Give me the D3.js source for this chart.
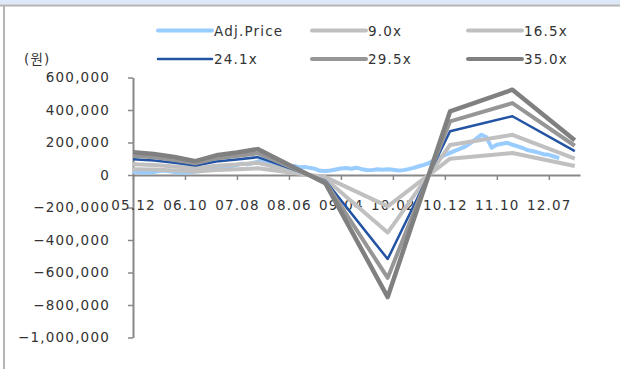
<!DOCTYPE html>
<html>
<head>
<meta charset="utf-8">
<script src="https://cdn.jsdelivr.net/npm/d3@7"></script>
<style>
  body { margin: 0; background: #fff; }
  text { font-family: 'DejaVu Sans', 'Noto Sans CJK KR', sans-serif; font-size: 13.5px; fill: #333; letter-spacing: 1.2px; }
</style>
</head>
<body>
<div id="chart"></div>
<script>
// months counted from 2005.12
var bandMonths = [0, 4, 8, 12, 16, 20, 24, 37, 49, 61, 73, 85];
var band90 = [36000, 33300, 28400, 21900, 31100, 35600, 41000, -12900, -193100, 100600, 135000, 54900];
var band165 = [66000, 61100, 52000, 40100, 57100, 65200, 75100, -23600, -354100, 184500, 247500, 100700];
var band241 = [96400, 89200, 75900, 58600, 83400, 95200, 109700, -34500, -517200, 269400, 361500, 147000];
var band295 = [118000, 109200, 92900, 71700, 102100, 116500, 134200, -42200, -633100, 329800, 442500, 180000];
var band350 = [140000, 129500, 110300, 85100, 121100, 138300, 159300, -50100, -751100, 391300, 525000, 213500];

// monthly adjusted price, 2005.12 .. 2012.10 (won)
var adjPrice = [
  22000, 18000, 15000, 16000, 19000, 24000, 27000, 23000, 19000, 16000, 15000, 17000,
  21000, 25000, 30000, 34000, 39000, 44000, 49000, 55000, 62000, 70000, 66000, 73000,
  82000, 96000, 76000, 62000, 50000, 46000, 52000, 55000, 48000, 50000, 44000, 38000, 26000,
  24000, 28000, 34000, 40000, 43000, 38000, 45000, 36000, 31000, 30000, 35000, 32000,
  36000, 32000, 28000, 30000, 36000, 44000, 54000, 62000, 75000, 92000, 108000, 122000,
  136000, 150000, 162000, 176000, 198000, 222000, 248000, 232000, 168000, 186000, 192000, 198000,
  186000, 176000, 166000, 152000, 146000, 138000, 128000, 124000, 114000, 104000
];

var tickMonths = [0, 10, 20, 30, 40, 50, 60, 70, 80];
var tickLabels = ['05.12', '06.10', '07.08', '08.06', '09.04', '10.02', '10.12', '11.10', '12.07'];
var yTicks = [-1000000, -800000, -600000, -400000, -200000, 0, 200000, 400000, 600000];

var seriesNames = ['Adj.Price', '9.0x', '16.5x', '24.1x', '29.5x', '35.0x'];
var seriesColors = ['#99ccff', '#c0c0c0', '#c0c0c0', '#2353a3', '#969696', '#808080'];
var seriesWidths = [4, 4, 4, 2.5, 4, 4.5];

var width = 620;
var height = 369;

var svg = d3.select('#chart')
  .append('svg')
    .attr('width', width)
    .attr('height', height);

// frame
svg.append('rect')
  .attr('x', 0).attr('y', 0)
  .attr('width', width).attr('height', 4.5)
  .attr('fill', '#dde9f8');
svg.append('line')
  .attr('x1', 0).attr('x2', width)
  .attr('y1', 5.5).attr('y2', 5.5)
  .attr('stroke', '#b4b4b4').attr('stroke-width', 2);
svg.append('line')
  .attr('x1', 4).attr('x2', 4)
  .attr('y1', 5).attr('y2', height)
  .attr('stroke', '#b4b4b4').attr('stroke-width', 2);

var x = d3.scaleLinear().domain([0, 86]).range([133, 580]);
var y = d3.scaleLinear().domain([-1000000, 600000]).range([337.5, 77.5]);

var yAxis = svg.append('g')
  .attr('transform', 'translate(133, 0)')
  .call(d3.axisLeft(y).tickValues(yTicks).tickSize(5).tickSizeOuter(0).tickPadding(18).tickFormat(d3.format(',')));

var xAxis = svg.append('g')
  .attr('transform', `translate(0, ${y(0)})`)
  .call(d3.axisBottom(x).tickValues(tickMonths).tickSize(5).tickSizeOuter(0).tickPadding(20)
    .tickFormat((d, i) => tickLabels[i]));

[yAxis, xAxis].forEach(g => {
  g.select('.domain').attr('stroke', '#888').attr('stroke-width', 2);
  g.selectAll('.tick line').attr('stroke', '#888').attr('stroke-width', 1.5);
  g.selectAll('.tick text').attr('fill', '#333').style('font-size', '13.5px');
});

// (unit)
svg.append('text')
  .attr('x', 24).attr('y', 64)
  .text('(원)');

var line = d3.line()
  .x(d => x(d[0]))
  .y(d => y(d[1]));

var priceData = adjPrice.map((v, i) => [i, v]);
var bands = [band90, band165, band241, band295, band350].map(b => b.map((v, i) => [bandMonths[i], v]));
var allSeries = [priceData].concat(bands);

svg.selectAll('.series')
  .data(allSeries)
  .enter()
    .append('path')
    .attr('class', 'series')
    .attr('d', line)
    .attr('fill', 'none')
    .attr('stroke', (d, i) => seriesColors[i])
    .attr('stroke-width', (d, i) => seriesWidths[i])
    .attr('stroke-linejoin', 'round');

// legend, two rows of three
var legendX = [158, 312, 468];
var legendY = [30.5, 59];
var legend = svg.selectAll('.legend')
  .data(seriesNames)
  .enter()
    .append('g')
    .attr('class', 'legend')
    .attr('transform', (d, i) => `translate(${legendX[i % 3]}, ${legendY[Math.floor(i / 3)]})`);

legend.append('line')
  .attr('x1', 0).attr('x2', 54)
  .attr('stroke', (d, i) => seriesColors[i])
  .attr('stroke-width', (d, i) => Math.min(seriesWidths[i], 4))
  .attr('stroke-linecap', 'round');

legend.append('text')
  .attr('x', 56)
  .attr('y', 5)
  .text(d => d);
</script>
</body>
</html>
